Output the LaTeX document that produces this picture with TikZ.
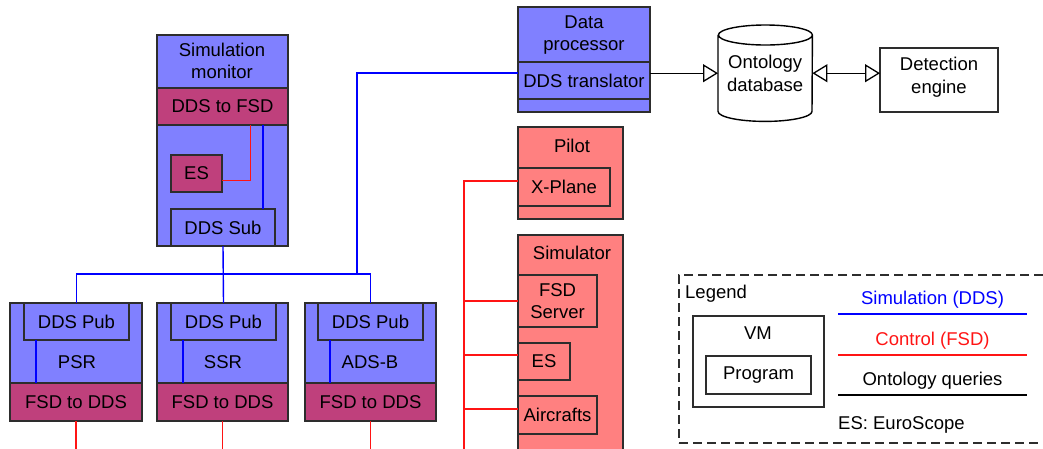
\documentclass[tikz,border=0pt]{standalone}
\usepackage{fontspec}
\setmainfont{Liberation Sans}
\usetikzlibrary{positioning, arrows.meta}

\definecolor{vmblue}{RGB}{128,128,255}
\definecolor{fsdmag}{RGB}{191,64,124}
\definecolor{pilotred}{RGB}{255,128,128}
\definecolor{edgegray}{RGB}{45,45,45}
\definecolor{simblue}{RGB}{0,0,255}
\definecolor{ctrlred}{RGB}{255,20,20}

\begin{document}
\begin{tikzpicture}[x=1pt, y=-1pt, font=\fontsize{18.5}{22.5}\selectfont,
    box/.style={draw=edgegray, line width=1.3pt, inner sep=0pt, outer sep=0pt, anchor=north west, align=center},
    vm/.style={box, fill=vmblue},
    fsd/.style={box, fill=fsdmag},
    pilot/.style={box, fill=pilotred},
    plain/.style={box, fill=white},
    lbl/.style={inner sep=0pt, align=center},
    sim/.style={draw=simblue, line width=1.4pt},
    ctrl/.style={draw=ctrlred, line width=1.4pt},
    query/.style={draw=black, line width=1.4pt},
    opentip/.tip={Triangle[open, length=15pt, width=18pt, line width=1.3pt]}]
    \useasboundingbox (0,0) rectangle (1043,448);

    % Simulation monitor VM
    \node[vm, minimum width=131pt, minimum height=211pt] (simmon) at (157,35) {};
    \node[lbl] (simmon-t) at (222,61) {Simulation\\monitor};
    \node[fsd, minimum width=131pt, minimum height=37pt] (s2f) at (157,88) {DDS to FSD};
    \node[fsd, minimum width=51pt, minimum height=37pt] (es1) at (171,155) {ES};
    \node[vm, minimum width=104pt, minimum height=37pt] (ddssub) at (171,209) {DDS Sub};

    % Radar VMs
    % PSR
    \node[vm, minimum width=132pt, minimum height=118pt] (psr) at (10,303) {};
    \node[vm, minimum width=105pt, minimum height=37pt] (pub1) at (24,303) {DDS Pub};
    \node[lbl] (psr-t) at (77,362) {PSR};
    \node[fsd, minimum width=132pt, minimum height=38pt] (f2d1) at (10,383) {FSD to DDS};

    % SSR
    \node[vm, minimum width=131pt, minimum height=118pt] (ssr) at (157,303) {};
    \node[vm, minimum width=105pt, minimum height=37pt] (pub2) at (171,303) {DDS Pub};
    \node[lbl] (ssr-t) at (223,362) {SSR};
    \node[fsd, minimum width=131pt, minimum height=38pt] (f2d2) at (157,383) {FSD to DDS};

    % ADS-B
    \node[vm, minimum width=131pt, minimum height=118pt] (adsb) at (305,303) {};
    \node[vm, minimum width=105pt, minimum height=37pt] (pub3) at (318,303) {DDS Pub};
    \node[lbl] (adsb-t) at (370,362) {ADS-B};
    \node[fsd, minimum width=131pt, minimum height=38pt] (f2d3) at (305,383) {FSD to DDS};

    % Data processor
    \node[vm, minimum width=132pt, minimum height=105pt] (dp) at (518,7) {};
    \node[lbl] (dp-t) at (584,35) {Data\\processor};
    \node[vm, minimum width=132pt, minimum height=37pt] (trans) at (518,62) {DDS translator};

    % Ontology database and detection engine
    \node[lbl, minimum width=94pt, minimum height=96pt, anchor=north west] (db) at (718,25) {};
    \draw[query, fill=white] ([yshift=-10pt]db.north west) -- ([yshift=10pt]db.south west)
        arc[start angle=180, end angle=360, x radius=47pt, y radius=10pt]
        -- ([yshift=-10pt]db.north east)
        arc[start angle=0, end angle=180, x radius=47pt, y radius=10pt]
        arc[start angle=180, end angle=360, x radius=47pt, y radius=10pt];
    \node[lbl] (db-t) at (db.center) {Ontology\\database};
    \node[plain, minimum width=118pt, minimum height=64pt] (detect) at (880,48) {};
    \node[lbl] (detect-t) at (939,77) {Detection\\engine};

    % Pilot and simulator VMs
    \node[pilot, minimum width=105pt, minimum height=92pt] (pilotvm) at (518,127) {};
    \node[lbl] (pilot-t) at (572,146) {Pilot};
    \node[pilot, minimum width=92pt, minimum height=38pt] (xplane) at (518,168) {X-Plane};
    \node[pilot, minimum width=105pt, minimum height=240pt] (simvm) at (518,235) {};
    \node[lbl] (sim-t) at (572,253) {Simulator};
    \node[pilot, minimum width=79pt, minimum height=52pt] (fsdsrv) at (518,275) {FSD\\Server};
    \node[pilot, minimum width=52pt, minimum height=37pt] (es2) at (518,343) {ES};
    \node[pilot, minimum width=79pt, minimum height=38pt] (acft) at (518,396) {Aircrafts};

    % Simulation (DDS) links
    \coordinate (bus) at (357,274);
    \draw[sim] ([xshift=40pt]ddssub.north) -- ([xshift=40pt]ddssub.north |- s2f.south);
    \draw[sim] (ddssub.south) -- (pub2.north);
    \draw[sim] (pub1.north) |- (bus -| pub3.north) -- (pub3.north);
    \draw[sim] (bus) |- ([yshift=7.5pt]trans.west);
    \draw[sim] ([xshift=12pt]pub1.south west) -- ([xshift=12pt]pub1.south west |- f2d1.north);
    \draw[sim] ([xshift=12pt]pub2.south west) -- ([xshift=12pt]pub2.south west |- f2d2.north);
    \draw[sim] ([xshift=12pt]pub3.south west) -- ([xshift=12pt]pub3.south west |- f2d3.north);

    % Control (FSD) links
    \coordinate (ctrlbus) at (464,460);
    \draw[ctrl] ([yshift=-7pt]es1.east) -| ([xshift=28pt]s2f.south);
    \draw[ctrl] ([yshift=6pt]xplane.west) -| (ctrlbus);
    \draw[ctrl] (fsdsrv.west) -- (fsdsrv.west -| ctrlbus);
    \draw[ctrl] ([yshift=6.5pt]es2.west) -- ([yshift=6.5pt]es2.west -| ctrlbus);
    \draw[ctrl] ([yshift=6pt]acft.west) -- ([yshift=6pt]acft.west -| ctrlbus);
    \draw[ctrl] (f2d1.south) -- (f2d1.south |- ctrlbus);
    \draw[ctrl] (f2d2.south) -- (f2d2.south |- ctrlbus);
    \draw[ctrl] (f2d3.south) -- (f2d3.south |- ctrlbus);

    % Ontology queries
    \draw[query, -opentip] (trans.east |- db.west) -- (db.west);
    \draw[query, opentip-opentip] (db.east) -- (db.east -| detect.west);

    % Legend
    \node[box, draw=edgegray, dash pattern=on 9pt off 5pt, minimum width=371pt, minimum height=168pt] (legend) at (679,275) {};
    \node[lbl, anchor=west] (legend-t) at (685,294) {Legend};
    \node[plain, minimum width=131pt, minimum height=91pt] (vmkey) at (693,316) {};
    \node[lbl] (vmkey-t) at (758,333) {VM};
    \node[plain, minimum width=105pt, minimum height=38pt] (progkey) at (706,356) {Program};
    \coordinate (simkey-a) at (838,314);
    \coordinate (simkey-b) at (1027,314);
    \coordinate (ctrlkey-a) at (838,355);
    \coordinate (ctrlkey-b) at (1027,355);
    \coordinate (querykey-a) at (838,395);
    \coordinate (querykey-b) at (1027,395);
    \draw[sim] (simkey-a) -- node[lbl, above=5pt, text=simblue] {Simulation (DDS)} (simkey-b);
    \draw[ctrl] (ctrlkey-a) -- node[lbl, above=5pt, text=ctrlred] {Control (FSD)} (ctrlkey-b);
    \draw[query] (querykey-a) -- node[lbl, above=5pt] {Ontology queries} (querykey-b);
    \node[lbl, anchor=west] (eskey) at (838,425) {ES: EuroScope};
\end{tikzpicture}
\end{document}
